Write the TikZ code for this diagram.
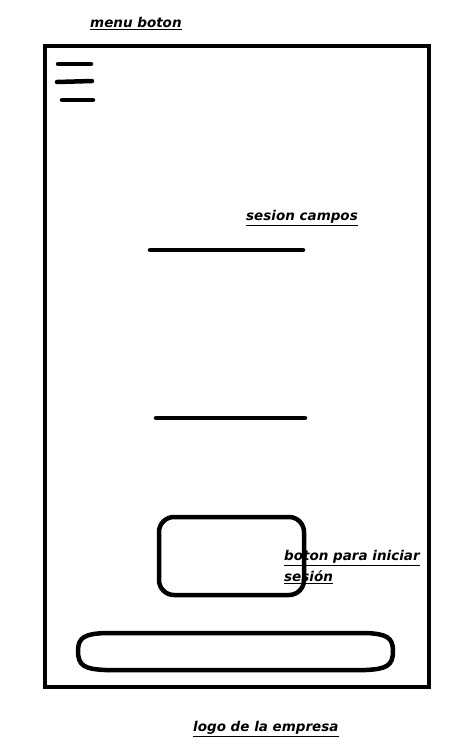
\documentclass[tikz,border=0pt]{standalone}
\usepackage{fontspec}
\setmainfont{DejaVu Sans}
\begin{document}
\begin{tikzpicture}[x=1pt,y=-1pt,
  thick line/.style={line width=4.5pt,line cap=round},
  lbl/.style={anchor=base west,inner sep=0pt,font=\fontsize{13.5}{20}\selectfont\bfseries\itshape}]
\useasboundingbox (0,0) rectangle (464,756);
\draw[line width=4.5pt] (45,46) rectangle (429,687);
% menu lines
\coordinate (m1a) at (58,64); \coordinate (m1b) at (91,64);
\coordinate (m2a) at (57,82); \coordinate (m2b) at (92,81);
\coordinate (m3a) at (62,100); \coordinate (m3b) at (93,100);
\draw[thick line] (m1a) -- (m1b);
\draw[thick line] (m2a) -- (m2b);
\draw[thick line] (m3a) -- (m3b);
% fields
\coordinate (f1a) at (150,250); \coordinate (f1b) at (303,250);
\coordinate (f2a) at (156,418); \coordinate (f2b) at (305,418);
\draw[thick line] (f1a) -- (f1b);
\draw[thick line] (f2a) -- (f2b);
% button
\draw[line width=4.5pt,rounded corners=15pt] (159,517) rectangle (304,595);
% logo
\draw[line width=4.5pt] (105,633) -- (366,633) .. controls (386,634) and (393,637) .. (393,651)
  .. controls (393,666) and (386,669) .. (366,670) -- (105,670)
  .. controls (85,669) and (78,666) .. (78,651) .. controls (78,637) and (85,634) .. (105,633) -- cycle;
% labels
\node[lbl] (t1) at (90,27.5) {\underline{menu boton}};
\node[lbl] (t2) at (246,220.5) {\underline{sesion campos}};
\node[lbl] (t3) at (284,560.5) {\underline{boton para iniciar}};
\node[lbl] (t4) at (284,581.5) {\underline{sesión}};
\node[lbl] (t5) at (193,731.5) {\underline{logo de la empresa}};
\end{tikzpicture}
\end{document}
